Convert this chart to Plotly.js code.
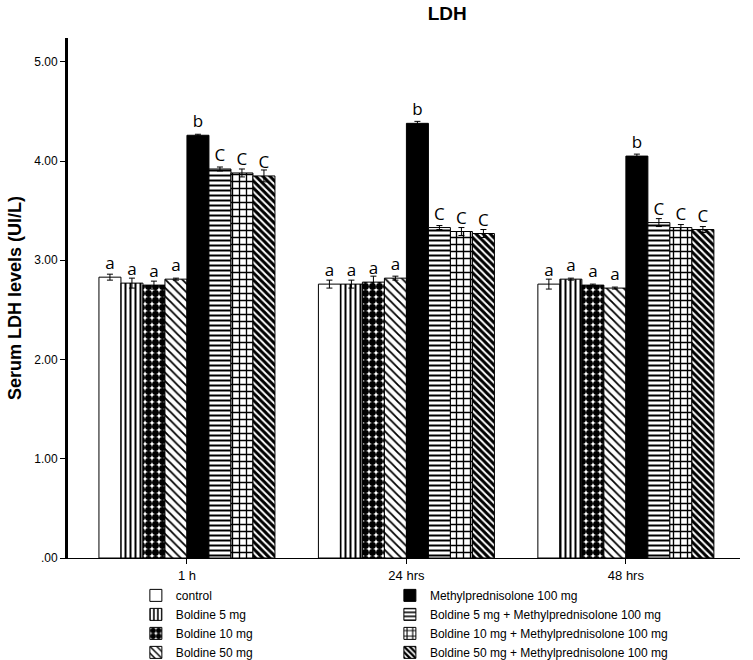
<!DOCTYPE html>
<html><head>
<meta charset="utf-8">
<script src="https://cdn.plot.ly/plotly-3.0.1.min.js"></script>
</head>
<body style="margin:0;background:#fff">
<div id="chart" style="width:753px;height:660px"></div>
<script>
const categories = ["1 h", "24 hrs", "48 hrs"];
const seriesNames = [
  "control",
  "Boldine 5 mg",
  "Boldine 10 mg",
  "Boldine 50 mg",
  "Methylprednisolone 100 mg",
  "Boldine 5 mg + Methylprednisolone 100 mg",
  "Boldine 10 mg + Methylprednisolone 100 mg",
  "Boldine 50 mg + Methylprednisolone 100 mg"
];
const control      = [2.83, 2.76, 2.76];
const boldine5     = [2.77, 2.76, 2.81];
const boldine10    = [2.75, 2.78, 2.75];
const boldine50    = [2.81, 2.82, 2.72];
const mp100        = [4.26, 4.38, 4.05];
const b5mp         = [3.92, 3.33, 3.38];
const b10mp        = [3.88, 3.29, 3.33];
const b50mp        = [3.85, 3.27, 3.31];

const errControl   = [0.03, 0.04, 0.05];
const errB5        = [0.05, 0.04, 0.01];
const errB10       = [0.04, 0.06, 0.01];
const errB50       = [0.01, 0.02, 0.01];
const errMP        = [0.01, 0.02, 0.02];
const errB5MP      = [0.02, 0.02, 0.04];
const errB10MP     = [0.04, 0.04, 0.03];
const errB50MP     = [0.06, 0.04, 0.03];

const letters = [
  ["a","a","a"], ["a","a","a"], ["a","a","a"], ["a","a","a"],
  ["b","b","b"], ["C","C","C"], ["C","C","C"], ["C","C","C"]
];
const yTickVals = [0, 1, 2, 3, 4, 5];
const yTickText = [".00", "1.00", "2.00", "3.00", "4.00", "5.00"];

const values = [control, boldine5, boldine10, boldine50, mp100, b5mp, b10mp, b50mp];
const errors = [errControl, errB5, errB10, errB50, errMP, errB5MP, errB10MP, errB50MP];

const styles = [
  {color: "white", pattern: {shape: ""}},
  {color: "white", pattern: {shape: "|", fgcolor: "black", bgcolor: "white", size: 5, solidity: 0.4}},
  {color: "white", pattern: {shape: ".", fgcolor: "black", bgcolor: "white", size: 7, solidity: 0.75}},
  {color: "white", pattern: {shape: "\\", fgcolor: "black", bgcolor: "white", size: 6, solidity: 0.3}},
  {color: "black", pattern: {shape: ""}},
  {color: "white", pattern: {shape: "-", fgcolor: "black", bgcolor: "white", size: 5, solidity: 0.4}},
  {color: "white", pattern: {shape: "+", fgcolor: "black", bgcolor: "white", size: 7, solidity: 0.35}},
  {color: "white", pattern: {shape: "\\", fgcolor: "black", bgcolor: "white", size: 5, solidity: 0.6}}
];

const traces = values.map((v, i) => {
  const m = {color: styles[i].color, line: {color: "black", width: 1}};
  if (styles[i].pattern.shape) m.pattern = styles[i].pattern;
  return {
    type: "bar",
    name: seriesNames[i],
    x: categories,
    y: v,
    marker: m,
    error_y: {type: "data", array: errors[i], visible: true, color: "black", thickness: 1, width: 3},
    text: letters[i],
    textposition: "outside",
    constraintext: "none",
    cliponaxis: false,
    textfont: {family: "Open Sans, sans-serif", size: 17, color: "black"},
    legend: i < 4 ? "legend" : "legend2",
    hoverinfo: "x+y+name"
  };
});

const legendCommon = {
  orientation: "v",
  bgcolor: "rgba(0,0,0,0)",
  font: {family: "Liberation Sans, Arial, sans-serif", size: 12, color: "black"},
  xanchor: "left", yanchor: "top",
  itemwidth: 30,
  tracegroupgap: 0,
  traceorder: "normal"
};

const layout = {
  width: 753, height: 660,
  margin: {l: 68, r: 13, t: 38, b: 102, autoexpand: false},
  paper_bgcolor: "white", plot_bgcolor: "white",
  barmode: "group",
  bargap: 0.198,
  bargroupgap: 0,
  showlegend: true,
  title: {
    text: "<b>LDH</b>",
    font: {family: "Liberation Sans, Arial, sans-serif", size: 19, color: "black"},
    x: 0.594, xanchor: "center", y: 0.98, yanchor: "middle"
  },
  xaxis: {
    type: "category",
    range: [-0.542, 2.52],
    showline: true, linecolor: "black", linewidth: 1,
    ticks: "outside", ticklen: 5, tickwidth: 1, tickcolor: "black",
    showgrid: false, zeroline: false,
    tickfont: {family: "Liberation Sans, Arial, sans-serif", size: 13, color: "black"}
  },
  yaxis: {
    range: [0, 5.24],
    tickvals: yTickVals, ticktext: yTickText,
    showline: true, linecolor: "black", linewidth: 3,
    ticks: "outside", ticklen: 5, tickwidth: 1, tickcolor: "black",
    showgrid: false, zeroline: false,
    tickfont: {family: "Liberation Sans, Arial, sans-serif", size: 12, color: "black"},
    title: {
      text: "<b>Serum LDH levels (UI/L)</b>",
      font: {family: "Liberation Sans, Arial, sans-serif", size: 18, color: "black"},
      standoff: 8
    }
  },
  legend: Object.assign({}, legendCommon, {x: 0.101, y: -0.044}),
  legend2: Object.assign({}, legendCommon, {x: 0.479, y: -0.044})
};

Plotly.newPlot("chart", traces, layout, {displayModeBar: false, staticPlot: true});
</script>
</body></html>
